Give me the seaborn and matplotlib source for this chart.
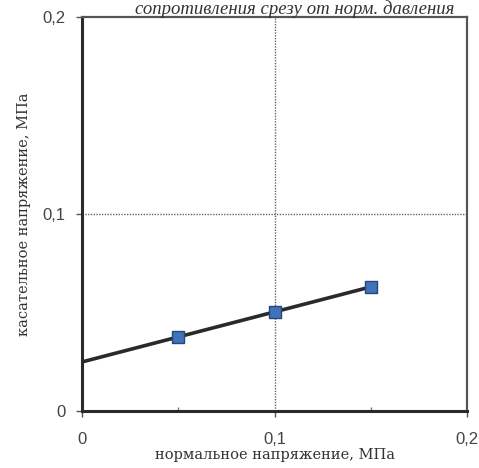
import matplotlib
matplotlib.use("Agg")
import matplotlib.pyplot as plt
import seaborn as sns
import pandas as pd

# Measured shear strength vs normal stress
normal_stress = [0.05, 0.10, 0.15]
shear_stress = [0.0376, 0.0503, 0.0630]

# Linear trend line (Coulomb envelope)
trend_x = [0.0, 0.15]
trend_y = [0.0249, 0.0630]

tick_values = [0.0, 0.1, 0.2]
tick_labels = ["0", "0,1", "0,2"]

title_text = "сопротивления срезу от норм. давления"
x_label = "нормальное напряжение, МПа"
y_label = "касательное напряжение, МПа"

sns.set_style("white")
plt.rcParams["font.family"] = ["Liberation Sans", "DejaVu Sans"]

fig = plt.figure(figsize=(4.79, 4.68), dpi=100)
ax = fig.add_axes([0.1712, 0.1218, 0.8038, 0.8419])

pts = pd.DataFrame({"x": normal_stress, "y": shear_stress})
trend = pd.DataFrame({"x": trend_x, "y": trend_y})

sns.lineplot(data=trend, x="x", y="y", ax=ax, color="#2a2a2a", lw=2.6, zorder=3)
sns.scatterplot(data=pts, x="x", y="y", ax=ax, marker="s", s=75,
                color="#3f73bd", edgecolor="#27496f", linewidth=1.0, zorder=4)

ax.set_xlim(0, 0.2)
ax.set_ylim(0, 0.2)
ax.set_xticks(tick_values)
ax.set_xticklabels(tick_labels)
ax.set_yticks(tick_values)
ax.set_yticklabels(tick_labels)
ax.set_xticks([0.05, 0.15], minor=True)

ax.tick_params(axis="both", which="major", direction="out", length=4, width=1,
               color="#555555", labelsize=12, labelcolor="#444444")
ax.tick_params(axis="x", which="major", pad=11)
ax.tick_params(axis="y", which="major", pad=8)
ax.tick_params(axis="x", which="minor", direction="in", length=3, width=1,
               color="#777777", bottom=True)
ax.tick_params(axis="y", left=True)
ax.tick_params(axis="x", bottom=True)

# dotted grid at 0.1 only
ax.axvline(0.1, color="#666666", lw=1.0, ls=(0, (1, 1)), zorder=1)
ax.axhline(0.1, color="#666666", lw=1.0, ls=(0, (1, 1)), zorder=1)

for side in ["left", "bottom"]:
    ax.spines[side].set_color("#2a2a2a")
    ax.spines[side].set_linewidth(2.2)
for side in ["top", "right"]:
    ax.spines[side].set_color("#555555")
    ax.spines[side].set_linewidth(1.6)

ax.set_xlabel(x_label, family=["DejaVu Serif"], fontsize=10.5,
              color="#333333", labelpad=1)
ax.set_ylabel(y_label, family=["DejaVu Serif"], fontsize=10.5,
              color="#333333", labelpad=8)

fig.text(0.615, 1.0, title_text, family=["Liberation Serif"], style="italic",
         fontsize=13.5, color="#333333", ha="center", va="top")

fig.savefig("out.png", dpi=100)
